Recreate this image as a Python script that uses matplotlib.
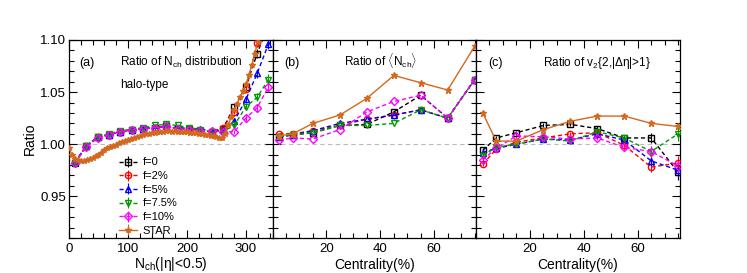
import numpy as np
import matplotlib
matplotlib.use('Agg')
import matplotlib.pyplot as plt
from matplotlib.ticker import MultipleLocator

plt.rcParams['font.family'] = ['Liberation Sans', 'DejaVu Sans']
plt.rcParams['mathtext.fontset'] = 'custom'
plt.rcParams['mathtext.rm'] = 'Liberation Sans'
plt.rcParams['mathtext.it'] = 'Liberation Sans'

# ---- panel (a): ratio of Nch distribution ----
nch = [10, 29, 49, 68, 87, 107, 126, 145, 164, 184, 203, 222, 242, 261, 280, 300, 319, 338]
a_f0 = [0.982, 0.998, 1.007, 1.009, 1.012, 1.014, 1.015, 1.016, 1.017, 1.015, 1.015, 1.013, 1.012, 1.015, 1.036, 1.055, 1.087, 1.115]
a_f2 = [0.982, 0.998, 1.007, 1.009, 1.012, 1.014, 1.015, 1.016, 1.017, 1.015, 1.015, 1.013, 1.012, 1.016, 1.031, 1.053, 1.097, 1.130]
a_f5 = [0.983, 0.998, 1.007, 1.009, 1.012, 1.014, 1.015, 1.016, 1.017, 1.016, 1.015, 1.015, 1.012, 1.014, 1.022, 1.043, 1.068, 1.096]
a_f75 = [0.982, 0.998, 1.007, 1.010, 1.013, 1.014, 1.016, 1.018, 1.019, 1.018, 1.016, 1.014, 1.012, 1.012, 1.018, 1.036, 1.045, 1.062]
a_f10 = [0.982, 0.997, 1.006, 1.009, 1.012, 1.014, 1.015, 1.016, 1.017, 1.015, 1.014, 1.013, 1.013, 1.012, 1.012, 1.025, 1.035, 1.055]
a_err = [0.002, 0.001, 0.001, 0.001, 0.001, 0.001, 0.001, 0.001, 0.001, 0.001, 0.001, 0.001, 0.001, 0.001, 0.002, 0.003, 0.004, 0.005]

star_nch = list(range(0, 330, 5))
star_a = [0.996, 0.990, 0.986, 0.985, 0.984, 0.984, 0.985, 0.986, 0.987, 0.989,
          0.990, 0.992, 0.994, 0.996, 0.997, 0.998, 0.999, 1.001, 1.002, 1.003,
          1.004, 1.005, 1.006, 1.007, 1.008, 1.009, 1.010, 1.010, 1.011, 1.011,
          1.012, 1.012, 1.012, 1.013, 1.013, 1.012, 1.013, 1.012, 1.012, 1.012,
          1.012, 1.011, 1.011, 1.011, 1.010, 1.010, 1.009, 1.009, 1.008, 1.008,
          1.007, 1.006, 1.006, 1.010, 1.018, 1.026, 1.033, 1.039, 1.045, 1.051,
          1.058, 1.066, 1.076, 1.087, 1.098, 1.110]

# ---- panels (b),(c): vs centrality ----
cent = [2.5, 7.5, 15, 25, 35, 45, 55, 65, 75]

b_f0 = [1.007, 1.009, 1.011, 1.018, 1.019, 1.031, 1.047, 1.025, 1.062]
b_f2 = [1.010, 1.010, 1.013, 1.018, 1.024, 1.028, 1.033, 1.025, 1.062]
b_f5 = [1.007, 1.009, 1.013, 1.020, 1.024, 1.028, 1.033, 1.025, 1.062]
b_f75 = [1.007, 1.009, 1.011, 1.018, 1.018, 1.020, 1.033, 1.025, 1.062]
b_f10 = [1.004, 1.006, 1.005, 1.014, 1.031, 1.041, 1.047, 1.025, 1.062]
b_star = [1.008, 1.010, 1.020, 1.028, 1.044, 1.066, 1.059, 1.052, 1.094]

c_f0 = [0.994, 1.006, 1.011, 1.018, 1.019, 1.015, 1.006, 1.006, 0.973]
c_f2 = [0.981, 0.995, 1.002, 1.006, 1.010, 1.011, 0.999, 0.978, 0.982]
c_f5 = [0.992, 0.996, 1.000, 1.005, 1.004, 1.010, 1.004, 0.984, 0.975]
c_f75 = [0.989, 0.997, 1.000, 1.005, 1.003, 1.012, 1.006, 0.993, 1.010]
c_f10 = [0.985, 0.996, 1.008, 1.007, 1.005, 1.006, 0.997, 0.993, 0.979]
c_star = [1.030, 1.003, 1.003, 1.014, 1.022, 1.027, 1.027, 1.020, 1.017]
c_err = [0.002, 0.002, 0.002, 0.002, 0.002, 0.002, 0.003, 0.005, 0.007]

labels = ['f=0', 'f=2%', 'f=5%', 'f=7.5%', 'f=10%']
colors = ['black', 'red', 'blue', '#009900', '#ff00ff']
markers = ['s', 'o', '^', 'v', 'D']
msizes = [4.5, 4.5, 5, 5, 4]
star_col = '#d2691e'

fig = plt.figure(figsize=(7.47, 2.73), dpi=100)
x0, w, y0, h = 69 / 747, 203.5 / 747, 35 / 273, 198 / 273
axa = fig.add_axes([x0, y0, w, h])
axb = fig.add_axes([x0 + w, y0, w, h])
axc = fig.add_axes([x0 + 2 * w, y0, w, h])


def draw_models(ax, x, series, err=None):
    for ys, lab, col, mk, ms in zip(series, labels, colors, markers, msizes):
        ax.errorbar(x, ys, yerr=err, color=col, ls='--', lw=1, marker=mk, ms=ms,
                    mfc='none', mec=col, mew=1, capsize=0, elinewidth=0.8,
                    dashes=(3, 2), label=lab, clip_on=True, zorder=3)


draw_models(axa, nch, [a_f0, a_f2, a_f5, a_f75, a_f10], a_err)
axa.errorbar(star_nch, star_a, yerr=0.0015, color=star_col, lw=1, marker='*', ms=4,
             capsize=0, elinewidth=0.8, label='STAR', zorder=4)

draw_models(axb, cent, [b_f0, b_f2, b_f5, b_f75, b_f10])
axb.plot(cent, b_star, color=star_col, lw=1, marker='*', ms=5, zorder=4)

draw_models(axc, cent, [c_f0, c_f2, c_f5, c_f75, c_f10], c_err)
axc.plot(cent, c_star, color=star_col, lw=1, marker='*', ms=5, zorder=4)

for ax in (axa, axb, axc):
    ax.set_ylim(0.91, 1.10)
    ax.axhline(1.0, color='#bbbbbb', ls='--', lw=0.8, dashes=(4, 3), zorder=1)
    ax.yaxis.set_major_locator(MultipleLocator(0.05))
    ax.yaxis.set_minor_locator(MultipleLocator(0.01))
    ax.tick_params(which='both', direction='in', top=True, right=True, labelsize=9.5, width=0.8)
    ax.tick_params(which='major', length=6)
    ax.tick_params(which='minor', length=3.5)
    for s in ax.spines.values():
        s.set_linewidth(0.9)

axa.set_xlim(0, 345)
axa.xaxis.set_major_locator(MultipleLocator(100))
axa.xaxis.set_minor_locator(MultipleLocator(20))
axa.set_yticks([0.95, 1.00, 1.05, 1.10])
axa.set_yticklabels(['0.95', '1.00', '1.05', '1.10'])
axa.tick_params(axis='y', pad=2)
axa.set_ylabel('Ratio', fontsize=10)
axa.yaxis.set_label_coords(-0.16, 0.5)
axa.set_xlabel(r'N$_{\rm ch}$(|$\eta$|<0.5)', fontsize=10, labelpad=0)

for ax in (axb, axc):
    ax.set_xlim(0, 75.5)
    ax.set_xticks([20, 40, 60])
    ax.xaxis.set_minor_locator(MultipleLocator(5))
    ax.set_yticklabels([])
    ax.set_xlabel('Centrality(%)', fontsize=10, labelpad=2)

axa.text(0.05, 0.87, '(a)', transform=axa.transAxes, fontsize=9)
axa.text(0.25, 0.87, r'Ratio of N$_{\rm ch}$ distribution', transform=axa.transAxes, fontsize=8.5)
axa.text(0.25, 0.76, 'halo-type', transform=axa.transAxes, fontsize=8.5)
axb.text(0.06, 0.87, '(b)', transform=axb.transAxes, fontsize=9)
axb.text(0.35, 0.87, r'Ratio of $\langle$N$_{\rm ch}\rangle$', transform=axb.transAxes, fontsize=8.5)
axc.text(0.06, 0.87, '(c)', transform=axc.transAxes, fontsize=9)
axc.text(0.33, 0.87, r'Ratio of v$_2${2,|$\Delta\eta$|>1}', transform=axc.transAxes, fontsize=8.5)

axa.legend(loc='upper left', bbox_to_anchor=(0.22, 0.435), frameon=False, fontsize=8,
           handlelength=1.6, handletextpad=0.5, labelspacing=0.33, borderpad=0)

fig.savefig('out.png', dpi=100)
